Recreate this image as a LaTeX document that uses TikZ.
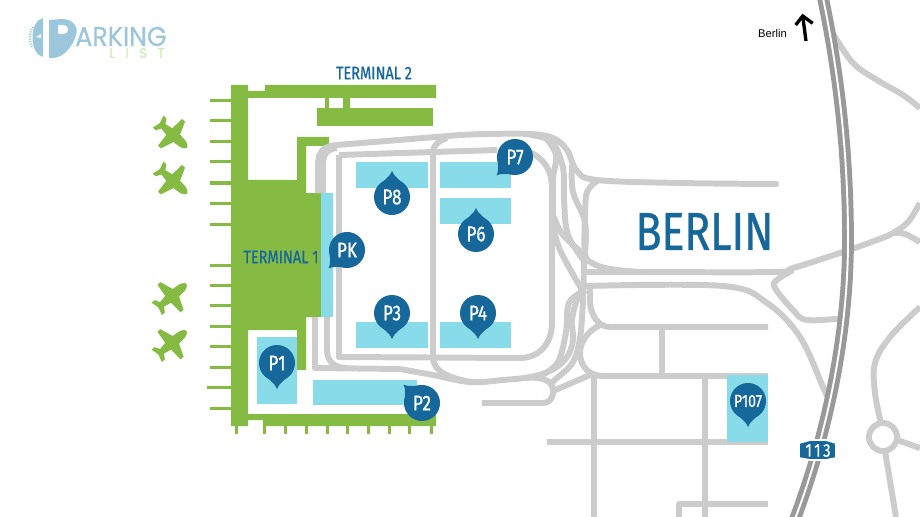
\documentclass[tikz,border=0pt]{standalone}
\usepackage{fontspec}
\setmainfont{Liberation Sans}
\newfontfamily\dinfont[FakeStretch=0.8,FakeBold=0.7]{Fira Sans}
\newfontfamily\logofont[FakeStretch=0.93,FakeBold=0.5]{Poppins}
\definecolor{termgreen}{HTML}{85BB42}
\definecolor{parkblue}{HTML}{88DCE9}
\definecolor{pinblue}{HTML}{16689B}
\definecolor{roadgray}{HTML}{CCCCCC}
\definecolor{waygray}{HTML}{999999}
\definecolor{logoblue}{HTML}{9CC6DC}
\definecolor{logogreen}{HTML}{CDEBB0}
\tikzset{
    road/.style={draw=roadgray,line width=3.4pt,line join=round},
    lot/.style={fill=parkblue},
    maplabel/.style={text=pinblue,inner sep=0pt,font=\dinfont\fontsize{10.3}{10.3}\selectfont},
    pinlabel/.style={text=white,inner sep=0pt,font=\dinfont\fontsize{12.2}{12.2}\selectfont}
}
\newcommand{\pinmark}[5]{
    \fill[pinblue,shift={(#2,#3)},rotate=#4] (0,0) circle (18);
    \fill[pinblue,shift={(#2,#3)},rotate=#4] (-14,11) .. controls (-8,17) and (-3,19) .. (0,26) .. controls (3,19) and (8,17) .. (14,11) -- cycle;
    \node[pinlabel] (#1) at (#2,#3) {#5};
}
\newcommand{\planemark}[3]{
    \fill[termgreen,shift={(#1,#2)},rotate=#3] (19,0) .. controls (18,-3) and (14,-4.5) .. (10,-4.5)
        -- (5,-5) -- (0,-18) -- (-4,-18) -- (-5,-4.5) -- (-13,-3) -- (-16,-8) -- (-20,-8) -- (-18,-1)
        -- (-18,1) -- (-20,8) -- (-16,8) -- (-13,3) -- (-5,4.5) -- (-4,18) -- (0,18) -- (5,5) -- (10,4.5)
        .. controls (14,4.5) and (18,3) .. (19,0) -- cycle;
}
\begin{document}
\begin{tikzpicture}[x=0.02cm,y=-0.02cm]
    \useasboundingbox (0,0) rectangle (920,517);
    \fill[logoblue] (43,18) .. controls (29,21) and (29,54) .. (43,57) -- cycle;
    \fill[white] (36,37) -- (41,34) -- (41,38) -- cycle;
    \draw[logoblue,line width=1.2pt,dash pattern=on 0.6pt off 0.8pt] (33,27) .. controls (29,32) and (29,44) .. (33,48);
    \fill[logoblue,even odd rule] (49,20) -- (62,19) .. controls (72,19) and (79,26) .. (76,35) .. controls (72,48) and (63,58) .. (52,58) -- (49,58) -- cycle
        (58,25) -- (63,25) .. controls (70,25) and (70,34) .. (63,34) -- (58,34) -- cycle;
    \node[text=logoblue,inner sep=0pt,anchor=west,font=\logofont\fontsize{15.5}{15.5}\selectfont] (logoname) at (75,36.5) {ARKING};
    \node[text=logogreen,inner sep=0pt,anchor=west,font=\logofont\fontsize{8}{8}\selectfont\addfontfeature{LetterSpace=75}] (logolist) at (109,53) {LIST};

    \foreach \y in {101,121,142,162,183,203,224,265,285,305,326,346,367,408}
        \fill[termgreen] (210,\y-1.5) rectangle (231,\y+1.5);
    \fill[termgreen] (207,385.5) rectangle (231,388.5);
    \foreach \x in {236,264,285,306,327,347,368,389,409,431}
        \fill[termgreen] (\x-1.5,426) rectangle (\x+1.5,434);
    \fill[termgreen] (231,85) -- (248,85) -- (248,91) -- (265,91) -- (265,85) -- (436,85) -- (436,98) -- (248,98)
        -- (248,180) -- (297,180) -- (297,137) -- (329,137) -- (329,146) -- (306,146) -- (306,193) -- (321,193)
        -- (321,317) -- (306,317) -- (306,370) -- (297,370) -- (297,330) -- (248,330) -- (248,414) -- (436,414)
        -- (436,426) -- (263,426) -- (263,420) -- (248,420) -- (248,426) -- (231,426) -- cycle;
    \fill[termgreen] (317,108) rectangle (433,126);
    \fill[termgreen] (325,98) rectangle (329,108);
    \fill[termgreen] (343,98) rectangle (350,108);
    \planemark{173}{135}{-42}
    \planemark{173}{181}{-42}
    \planemark{172}{296}{40}
    \planemark{172}{343}{40}

    \draw[road] (315,317) -- (315,368) -- (400,369);
    \draw[road] (327,317) -- (327,350) .. controls (327,362) and (335,368) .. (347,368);
    \draw[road] plot[smooth,tension=.6] coordinates {(400,369) (433,375) (470,382) (503,380) (530,377) (552,370) (567,357) (573,340) (572,320) (577,300) (585,290)};
    \draw[road] (339,155) -- (339,357) -- (520,358) .. controls (538,358) and (552,345) .. (552,322) -- (552,190) .. controls (552,170) and (545,160) .. (530,152);
    \draw[road] (339,155) -- (497,150);
    \draw[road] (318,193) -- (318,165) .. controls (318,150) and (325,146) .. (337,145) -- (460,135);
    \draw[road] (323,193) -- (323,165) .. controls (323,153) and (328,149) .. (337,148);
    \draw[road] (433,150) -- (433,357) .. controls (433,370) and (445,377) .. (470,382);
    \draw[road] (433,150) .. controls (434,145) and (440,140) .. (447,138);
    \draw[road,line cap=round] plot[smooth,tension=.6] coordinates {(460,135) (487,134) (530,134) (553,138) (567,150) (577,171) (597,180) (680,183) (776,184)};
    \draw[road] plot[smooth,tension=.6] coordinates {(530,135) (552,142) (563,168) (564,200) (568,235) (585,262)};
    \draw[road] plot[smooth,tension=.6] coordinates {(545,137) (556,155) (553,180) (553,225)};
    \draw[road] plot[smooth,tension=.6] coordinates {(553,225) (560,250) (582,290)};
    \draw[road] plot[smooth,tension=.6] coordinates {(553,215) (563,235) (585,255)};
    \draw[road] plot[smooth,tension=.6] coordinates {(572,165) (573,192) (585,222) (585,253)};
    \draw[road] plot[smooth,tension=.6] coordinates {(597,181) (587,192) (585,217) (585,253) (592,263) (610,269) (640,272)};
    \draw[road] plot[smooth,tension=.6] coordinates {(584,260) (583,300) (580,338) (573,362) (557,378) (548,385)};
    \draw[road] (553,391) -- (590,375);
    \draw[road] plot[smooth,tension=.6] coordinates {(585,290) (569,303) (566,332) (558,362) (542,375)};
    \draw[road] plot[smooth,tension=.6] coordinates {(585,272) (640,272) (773,272) (793,268) (840,253) (877,240) (893,233) (908,222) (920,203)};
    \draw[road] plot[smooth,tension=.6] coordinates {(893,233) (905,234) (920,242)};
    \draw[road] plot[smooth,tension=.6] coordinates {(585,286) (723,286) (767,303) (800,337) (823,387) (828,398)};
    \draw[road] plot[smooth,tension=.6] coordinates {(793,270) (777,280) (775,288) (793,310) (807,320) (845,318)};
    \draw[road] (590,286) -- (590,303) .. controls (591,315) and (598,327) .. (610,327) -- (768,327);
    \draw[road] (600,325) .. controls (590,330) and (580,340) .. (580,353) .. controls (580,367) and (590,376) .. (603,376) -- (768,376);
    \draw[road] (662,327) -- (662,376);
    \draw[road] (594,376) -- (594,517);
    \draw[road] (705,376) -- (705,517);
    \draw[road] (547,442) -- (768,442);
    \draw[road] (679,517) -- (679,504) -- (768,504);
    \draw[road] (482,403) -- (543,403) .. controls (553,403) and (556,390) .. (550,383) .. controls (545,378) and (535,377) .. (525,378);
    \draw[road] plot[smooth,tension=.6] coordinates {(832,32) (853,63) (877,80) (903,95) (920,108)};
    \draw[road] plot[smooth,tension=.6] coordinates {(920,307) (890,337) (875,363) (875,393) (881,423)};
    \draw[road] (883,437) circle (14);
    \draw[road] (897,440) -- (920,448);
    \draw[road] (885,451) -- (896,517);

    \draw[draw=waygray,line width=2.8pt,double=white,double distance=1.1pt] (823,-2) .. controls (838,70) and (848,150) .. (848,240) .. controls (848,340) and (825,440) .. (795,519);
    \fill[pinblue,draw=white,line width=1pt] (799,443) -- (810,440) -- (826,440) -- (836,443) -- (836,458) -- (826,460) -- (810,460) -- (799,458) -- cycle;
    \node[text=white,inner sep=0pt,font=\dinfont\fontsize{10.5}{10.5}\selectfont\addfontfeature{LetterSpace=14}] (road113) at (818,450.5) {113};

    \fill[lot] (321,193) rectangle (333,317);
    \fill[lot] (356,162) rectangle (428,188);
    \fill[lot] (440,162) rectangle (511,188);
    \fill[lot] (440,198) rectangle (511,224);
    \fill[lot] (356,322) rectangle (428,348);
    \fill[lot] (440,322) rectangle (511,348);
    \fill[lot] (257,337) rectangle (297,404);
    \fill[lot] (313,380) rectangle (417,405);
    \fill[lot] (727,375) rectangle (768,442);

    \pinmark{pk}{347}{250}{-45}{PK}
    \pinmark{p8}{392}{197}{180}{P8}
    \pinmark{p7}{515}{157}{-45}{P7}
    \pinmark{p6}{476}{234}{180}{P6}
    \pinmark{p3}{392}{313}{0}{P3}
    \pinmark{p4}{478}{313}{0}{P4}
    \pinmark{p1}{277}{363}{0}{P1}
    \pinmark{p2}{422}{403}{-135}{P2}
    \pinmark{p107}{748}{401}{0}{{\fontsize{10}{10}\selectfont P107}}

    \node[maplabel] (termtwo) at (374,73) {TERMINAL 2};
    \node[maplabel] (termone) at (281,257) {TERMINAL 1};
    \node[text=pinblue,inner sep=0pt,font=\dinfont\fontsize{30.4}{30.4}\selectfont] (berlin) at (704.5,231.5) {BERLIN};

    \node[inner sep=0pt,font=\fontsize{6.4}{6.4}\selectfont] (berlinsign) at (772.5,33.5) {Berlin};
    \coordinate (arrowfoot) at (806,41);
    \coordinate (arrowtip) at (802.7,16);
    \draw[line width=1.9pt] (arrowfoot) -- (arrowtip);
    \draw[line width=1.9pt] (795.7,25) -- (arrowtip) -- (812.7,23.3);
\end{tikzpicture}
\end{document}
